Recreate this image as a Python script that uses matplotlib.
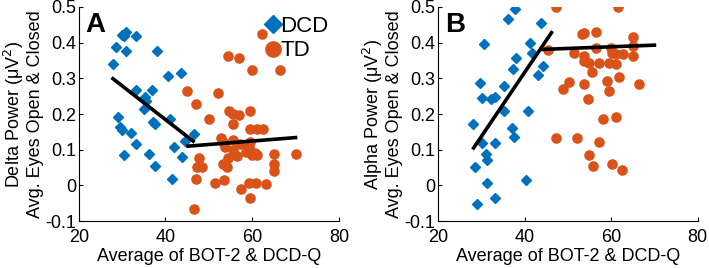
import matplotlib
matplotlib.use("Agg")
import matplotlib.pyplot as plt
from matplotlib.lines import Line2D

BLUE = "#0072BD"
ORANGE = "#D95319"

# Panel A: delta power
dcd_a_x = [27.9, 28.5, 30.1, 31.0, 30.5, 33.1, 31.0, 38.1, 40.5, 43.5, 33.2, 37.0, 35.2, 35.6,
           35.0, 37.2, 37.5, 41.0, 29.1, 29.6, 30.1, 32.0, 33.1, 30.5, 36.2, 37.7, 42.0, 43.9,
           44.6, 46.5, 41.5]
dcd_a_y = [0.341, 0.388, 0.421, 0.430, 0.418, 0.419, 0.378, 0.378, 0.306, 0.315, 0.268, 0.268, 0.248, 0.236,
           0.214, 0.178, 0.171, 0.187, 0.192, 0.164, 0.154, 0.148, 0.117, 0.084, 0.089, 0.054, 0.107, 0.081,
           0.124, 0.145, 0.019]
td_a_x = [62.2, 54.5, 57.0, 60.0, 66.5, 45.0, 52.1, 47.0, 50.0, 54.6, 55.6, 57.0, 59.5, 55.5,
          59.4, 61.0, 62.5, 52.9, 53.3, 55.6, 53.8, 57.2, 59.4, 59.2, 58.5, 55.6, 56.5, 60.0,
          60.6, 61.2, 65.0, 70.0, 47.7, 54.5, 53.2, 54.1, 47.2, 48.5, 65.0, 65.0, 47.0, 51.4,
          53.6, 59.2, 60.8, 63.1, 57.5, 59.6, 46.6]
td_a_y = [0.423, 0.362, 0.358, 0.324, 0.322, 0.264, 0.260, 0.227, 0.187, 0.208, 0.199, 0.196, 0.208, 0.171,
          0.159, 0.159, 0.159, 0.134, 0.121, 0.126, 0.107, 0.117, 0.121, 0.107, 0.093, 0.098, 0.083, 0.084,
          0.090, 0.086, 0.089, 0.087, 0.076, 0.076, 0.061, 0.051, 0.051, 0.051, 0.059, 0.040, 0.019, 0.007,
          0.014, 0.007, 0.007, 0.005, -0.011, -0.035, -0.065]
fit_a1_x = [27.9, 46.4]
fit_a1_y = [0.299, 0.124]
fit_a2_x = [45.2, 70.0]
fit_a2_y = [0.110, 0.134]

# Panel B: alpha power
dcd_b_x = [28.1, 28.6, 29.0, 29.6, 30.2, 30.2, 30.6, 31.0, 31.2, 31.2, 32.3, 33.1, 33.1, 33.1,
           35.2, 35.2, 36.2, 37.1, 37.3, 37.5, 37.7, 38.1, 40.2, 40.8, 41.2, 41.8, 43.1, 43.7,
           44.2]
dcd_b_y = [0.172, 0.052, -0.053, 0.288, 0.246, 0.119, 0.395, 0.088, 0.071, 0.007, 0.241, 0.248, 0.119, -0.035,
           0.279, 0.208, 0.466, 0.162, 0.326, 0.135, 0.495, 0.357, 0.014, 0.208, 0.400, 0.370, 0.310, 0.456,
           0.335]
td_b_x = [47.2, 61.5, 45.3, 53.2, 53.7, 56.5, 65.0, 51.5, 53.7, 53.7, 56.6, 59.9, 60.3, 61.2,
          62.7, 65.0, 65.0, 54.8, 57.2, 59.6, 61.2, 55.6, 50.2, 48.8, 53.7, 59.0, 61.9, 66.5,
          59.4, 54.7, 58.1, 61.2, 47.3, 52.2, 57.2, 54.9, 55.9, 60.3, 62.4]
td_b_y = [0.500, 0.500, 0.380, 0.425, 0.428, 0.429, 0.417, 0.372, 0.363, 0.349, 0.384, 0.384, 0.372, 0.368,
          0.368, 0.390, 0.363, 0.342, 0.342, 0.344, 0.339, 0.317, 0.289, 0.270, 0.283, 0.293, 0.305, 0.284,
          0.264, 0.242, 0.185, 0.192, 0.134, 0.133, 0.122, 0.084, 0.054, 0.059, 0.042]
fit_b1_x = [28.2, 46.2]
fit_b1_y = [0.105, 0.428]
fit_b2_x = [43.9, 70.0]
fit_b2_y = [0.381, 0.393]

x_ticks = [20, 40, 60, 80]
y_ticks = [-0.1, 0, 0.1, 0.2, 0.3, 0.4, 0.5]
y_ticklabels = ["-0.1", "0", "0.1", "0.2", "0.3", "0.4", "0.5"]

plt.rcParams["font.family"] = ["Liberation Sans", "DejaVu Sans"]


def style_axes(ax, ylabel, letter):
    ax.set_xlim(20, 80)
    ax.set_ylim(-0.1, 0.5)
    ax.set_xticks(x_ticks)
    ax.set_yticks(y_ticks)
    ax.set_yticklabels(y_ticklabels)
    ax.tick_params(direction="in", length=3, width=0.8, labelsize=13, colors="black")
    ax.tick_params(axis="y", pad=2)
    ax.tick_params(axis="x", pad=6)
    for side in ["top", "right"]:
        ax.spines[side].set_visible(False)
    for side in ["left", "bottom"]:
        ax.spines[side].set_linewidth(0.8)
    ax.set_xlabel("Average of BOT-2 & DCD-Q", fontsize=13, labelpad=1)
    ax.set_ylabel(ylabel, fontsize=13, labelpad=1, linespacing=1.05)
    ax.text(0.025, 0.975, letter, transform=ax.transAxes, fontsize=20, fontweight="bold",
            va="top", ha="left")


def draw_panel(ax, dx, dy, tx, ty, f1x, f1y, f2x, f2y):
    ax.plot(dx, dy, linestyle="none", marker="D", markersize=5.6, color=BLUE, zorder=2)
    ax.plot(tx, ty, linestyle="none", marker="o", markersize=6.6, color=ORANGE, zorder=2)
    ax.plot(f1x, f1y, color="black", linewidth=2.6, zorder=3)
    ax.plot(f2x, f2y, color="black", linewidth=2.6, zorder=3)


fig = plt.figure(figsize=(7.09, 2.68), dpi=100)
ax_a = fig.add_axes([0.111, 0.175, 0.367, 0.799])
ax_b = fig.add_axes([0.618, 0.175, 0.366, 0.799])

draw_panel(ax_a, dcd_a_x, dcd_a_y, td_a_x, td_a_y, fit_a1_x, fit_a1_y, fit_a2_x, fit_a2_y)
draw_panel(ax_b, dcd_b_x, dcd_b_y, td_b_x, td_b_y, fit_b1_x, fit_b1_y, fit_b2_x, fit_b2_y)

style_axes(ax_a, "Delta Power (\u03bcV$^2$)\nAvg. Eyes Open & Closed", "A")
style_axes(ax_b, "Alpha Power (\u03bcV$^2$)\nAvg. Eyes Open & Closed", "B")

handles = [
    Line2D([], [], linestyle="none", marker="D", markersize=9, color=BLUE),
    Line2D([], [], linestyle="none", marker="o", markersize=11, color=ORANGE),
]
ax_a.legend(handles, ["DCD", "TD"], loc="upper right", bbox_to_anchor=(1.02, 1.03),
            frameon=False, fontsize=16, handlelength=0.7, handletextpad=0.0,
            labelspacing=0.15, borderpad=0.2)

fig.savefig("out.png", dpi=100)
